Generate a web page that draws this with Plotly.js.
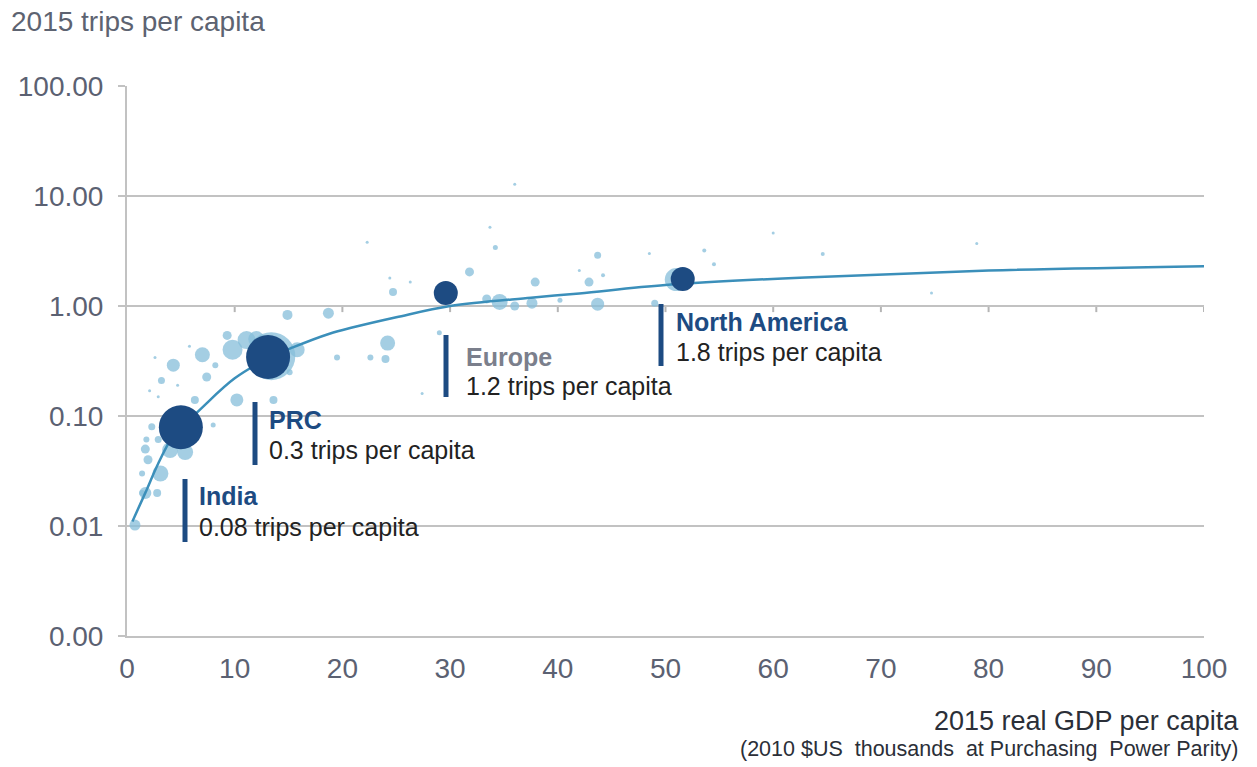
<!DOCTYPE html>
<html>
<head>
<meta charset="utf-8">
<script src="https://cdn.plot.ly/plotly-3.0.1.min.js"></script>
<style>
  html, body { margin: 0; padding: 0; background: #ffffff; }
  #chart { width: 1257px; height: 767px; }
</style>
</head>
<body>
<div id="chart"></div>
<script>
// ---- Data ----
// Countries (light bubbles): GDP per capita (k$), trips per capita, bubble diameter
const countryGdp = [0.74, 1.7, 2.8, 1.4, 3.1, 1.4, 1.95, 1.7, 1.8, 2.9, 2.3, 4.0, 5.4, 6.3, 4.3, 7.0, 7.4, 3.2, 8.2, 9.3,
  2.6, 5.8, 4.7, 2.1, 2.9, 8.0, 14.9, 18.7, 11.1, 9.8, 15.8, 10.2, 19.5, 15.1, 13.6, 24.7, 31.8, 37.9, 33.4, 34.6,
  37.6, 24.2, 24.4, 26.3, 34.2, 40.2, 43.7, 42.9, 43.7, 44.2, 42.0, 49.0, 53.6, 54.5, 48.5, 60.0, 64.6, 78.9, 74.7, 36.0,
  33.7, 22.3, 24.0, 22.6, 27.4, 29.0, 12.0, 13.4, 5.6, 6.0, 51.0, 36.0];
const countryTrips = [0.0102, 0.020, 0.020, 0.020, 0.030, 0.030, 0.040, 0.050, 0.061, 0.061, 0.080, 0.049, 0.047, 0.14, 0.29, 0.36, 0.226, 0.21, 0.29, 0.54,
  0.34, 0.43, 0.19, 0.17, 0.15, 0.083, 0.83, 0.86, 0.49, 0.40, 0.40, 0.14, 0.34, 0.25, 0.14, 1.34, 2.04, 1.65, 1.16, 1.09,
  1.06, 0.46, 1.8, 1.65, 3.4, 1.13, 2.9, 1.65, 1.04, 1.9, 2.1, 1.06, 3.2, 2.4, 3.0, 4.6, 2.97, 3.7, 1.31, 12.8,
  5.2, 3.8, 0.33, 0.34, 0.16, 0.57, 0.50, 0.35, 0.065, 0.10, 1.74, 1.0];
const countrySize = [11, 12, 8, 6, 16, 6, 9, 9, 6, 7, 7, 16, 16, 8, 13, 15, 9, 7, 6, 9,
  3, 3, 3, 3, 3, 5, 10, 11, 18, 20, 15, 13, 6, 6, 8, 8, 9, 9, 9, 16,
  11, 15, 3, 3, 5, 5, 7, 9, 13, 4, 3, 7, 4, 4, 3, 3, 4, 3, 3, 3,
  3, 3, 8, 6, 3, 5, 16, 48, 20, 13, 23, 9];

// Highlighted regions (dark bubbles)
const regionNames = ["India", "PRC", "Europe", "North America"];
const regionGdp = [5.0, 13.1, 29.6, 51.6];
const regionTrips = [0.079, 0.344, 1.31, 1.76];
const regionSize = [44, 44, 24, 24];
const regionLabel = ["0.08 trips per capita", "0.3 trips per capita", "1.2 trips per capita", "1.8 trips per capita"];

// Fitted curve, points
const curveGdp = [0.5, 1.7, 2.9, 4.2, 5.0, 7.0, 10, 13, 15.4, 18.8, 21, 25, 30, 37.5, 42, 50, 63, 80, 100];
const curveTrips = [0.011, 0.020, 0.037, 0.064, 0.077, 0.12, 0.22, 0.33, 0.42, 0.56, 0.64, 0.79, 1.0, 1.19, 1.30, 1.55, 1.82, 2.1, 2.3];

// Axis ticks
const yTickVals = [0.001, 0.01, 0.1, 1, 10, 100];
const yTickText = ["0.00", "0.01", "0.10", "1.00", "10.00", "100.00"];
const xTickVals = [0, 10, 20, 30, 40, 50, 60, 70, 80, 90, 100];

// ---- Layout helpers (pixel -> paper) ----
const L = 127, R = 1204, T = 86, B = 636;
const px = v => (v - L) / (R - L);
const py = v => (B - v) / (B - T);

const FONT = "Liberation Sans, Arial, Helvetica, sans-serif";
const DARK = "#1d4b82";
const LIGHT = "#86bed9";

const traces = [
  {
    x: countryGdp, y: countryTrips, type: "scatter", mode: "markers",
    marker: { size: countrySize, sizemode: "diameter", color: LIGHT, opacity: 0.75, line: { width: 0 } },
    hoverinfo: "skip", showlegend: false
  },
  {
    x: curveGdp, y: curveTrips, type: "scatter", mode: "lines",
    line: { color: "#3b8fba", width: 2.5, shape: "spline", smoothing: 1 },
    hoverinfo: "skip", showlegend: false
  },
  {
    x: regionGdp, y: regionTrips, type: "scatter", mode: "markers", text: regionNames,
    marker: { size: regionSize, sizemode: "diameter", color: DARK, opacity: 1, line: { width: 0 } },
    hoverinfo: "text", showlegend: false
  }
];

// Label blocks: bar x, bar top/bottom, text x, name y, value y (pixels)
const labelPos = [
  { bar: 185, top: 479, bot: 542, tx: 197, ny: 496, vy: 527, color: DARK },
  { bar: 255, top: 402, bot: 465, tx: 267, ny: 420, vy: 450, color: DARK },
  { bar: 446, top: 335, bot: 397, tx: 464, ny: 357, vy: 386, color: "#7b7f8c" },
  { bar: 661, top: 304, bot: 366, tx: 674, ny: 322, vy: 352, color: DARK }
];

const shapes = [];
const annotations = [];
labelPos.forEach((p, i) => {
  shapes.push({
    type: "line", xref: "paper", yref: "paper",
    x0: px(p.bar), x1: px(p.bar), y0: py(p.top), y1: py(p.bot),
    line: { color: DARK, width: 5 }
  });
  annotations.push({
    xref: "paper", yref: "paper", x: px(p.tx), y: py(p.ny), xanchor: "left", yanchor: "middle",
    text: "<b>" + regionNames[i] + "</b>", showarrow: false,
    font: { family: FONT, size: 25, color: p.color }
  });
  annotations.push({
    xref: "paper", yref: "paper", x: px(p.tx), y: py(p.vy), xanchor: "left", yanchor: "middle",
    text: regionLabel[i], showarrow: false,
    font: { family: FONT, size: 25, color: "#222222" }
  });
});

// small tick marks that hang from the 1.00 gridline
xTickVals.slice(1).forEach(v => {
  shapes.push({
    type: "line", xref: "x", yref: "y", x0: v, x1: v, y0: 1, y1: 0.88,
    line: { color: "#b5b5b5", width: 2 }, layer: "below"
  });
});

annotations.push({
  xref: "paper", yref: "paper", x: px(9), y: py(22), xanchor: "left", yanchor: "middle",
  text: "2015 trips per capita", showarrow: false,
  font: { family: FONT, size: 28, color: "#5d6371" }
});
annotations.push({
  xref: "paper", yref: "paper", x: px(1241), y: py(721), xanchor: "right", yanchor: "middle",
  text: "2015 real GDP per capita", showarrow: false,
  font: { family: FONT, size: 27, color: "#2b2f38" }
});
annotations.push({
  xref: "paper", yref: "paper", x: px(1240), y: py(749), xanchor: "right", yanchor: "middle",
  text: "(2010 $US  thousands  at Purchasing  Power Parity)", showarrow: false,
  font: { family: FONT, size: 21.5, color: "#2b2f38" }
});

const layout = {
  width: 1257, height: 767,
  margin: { l: L, r: 1257 - R, t: T, b: 767 - B, pad: 0 },
  paper_bgcolor: "#ffffff", plot_bgcolor: "#ffffff",
  showlegend: false,
  font: { family: FONT, size: 28, color: "#5b6172" },
  xaxis: {
    range: [0, 100], tickvals: xTickVals, ticks: "", showgrid: false, zeroline: false,
    showline: true, linecolor: "#c2c2c2", linewidth: 2,
    tickfont: { family: FONT, size: 28, color: "#5b6172" }, ticklabelstandoff: 6
  },
  yaxis: {
    type: "log", range: [-3, 2], tickvals: yTickVals, ticktext: yTickText,
    showgrid: true, gridcolor: "#c2c2c2", gridwidth: 2, zeroline: false,
    showline: true, linecolor: "#c2c2c2", linewidth: 2,
    ticks: "outside", ticklen: 7, tickwidth: 2, tickcolor: "#c2c2c2",
    tickfont: { family: FONT, size: 28, color: "#5b6172" }, ticklabelstandoff: 9
  },
  shapes: shapes,
  annotations: annotations
};

Plotly.newPlot("chart", traces, layout, { displayModeBar: false, staticPlot: true });
</script>
</body>
</html>
